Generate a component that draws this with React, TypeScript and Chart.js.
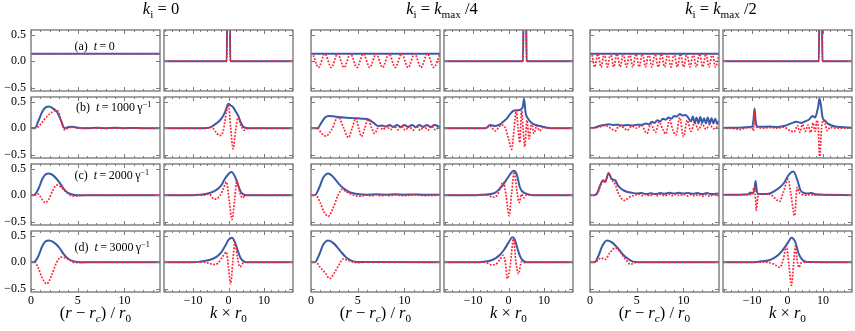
import React, { useEffect, useRef } from 'react';
import { Chart, registerables } from 'chart.js';

Chart.register(...registerables);

type Pt = [number, number];

// ---------- axis configuration ----------
const R_RANGE: [number, number] = [0, 13.8];
const K_RANGE: [number, number] = [-18.2, 18.2];
const Y_RANGE: [number, number] = [-0.565, 0.59];
const R_MAJOR = [0, 5, 10];
const R_MINOR = [1, 2, 3, 4, 6, 7, 8, 9, 11, 12, 13];
const K_MAJOR = [-10, 0, 10];
const K_MINOR = [-18, -16, -14, -12, -8, -6, -4, -2, 2, 4, 6, 8, 12, 14, 16, 18];
const Y_MAJOR = [-0.5, 0, 0.5];

// ---------- k_i = 0 ----------
const k0_r_t0_blue: Pt[] = [[0, 0.14], [13.8, 0.14]];
const k0_r_t0_red: Pt[] = [[0, 0.14], [13.8, 0.14]];
const k0_k_t0_blue: Pt[] = [[-18.2, 0], [-0.5, 0], [-0.3, 1.5], [0.3, 1.5], [0.5, 0], [18.2, 0]];
const k0_k_t0_red: Pt[] = [[-18.2, 0], [-0.5, 0], [-0.3, 1.5], [0.3, 1.5], [0.5, 0], [18.2, 0]];

const k0_r_t1_blue: Pt[] = [[0, 0], [0.4, 0], [0.8, 0.14], [1.2, 0.31], [1.6, 0.4], [1.9, 0.41], [2.3, 0.38], [2.8, 0.3], [3.2, 0.15], [3.6, 0.0], [4.0, 0.02], [4.4, 0.025], [5, 0.01], [6, 0.0], [7, 0.008], [8, 0], [9, 0.006], [10, 0], [11, 0.005], [12, 0], [13.8, 0]];
const k0_r_t1_red: Pt[] = [[0, 0], [0.5, 0], [1.0, 0.07], [1.5, 0.18], [2.0, 0.27], [2.6, 0.33], [2.9, 0.32], [3.2, 0.15], [3.6, -0.03], [4.0, 0.0], [4.4, 0.02], [5, 0.0], [6, 0.005], [7, 0], [13.8, 0]];
const k0_k_t1_blue: Pt[] = [[-18.2, 0], [-7, 0], [-5.5, 0.01], [-4.4, 0.045], [-3, 0.11], [-2, 0.18], [-1, 0.3], [0, 0.46], [0.6, 0.43], [1.3, 0.4], [2, 0.32], [2.7, 0.24], [3.4, 0.12], [4.1, 0.03], [5.5, 0], [18.2, 0]];
const k0_k_t1_red: Pt[] = [[-18.2, 0], [-6, 0], [-4.8, 0.02], [-3.6, -0.07], [-2.5, -0.14], [-1.5, -0.05], [-0.6, 0.3], [0, 0.44], [0.6, 0.02], [1.3, -0.39], [2.0, -0.05], [2.7, 0.2], [3.5, 0.05], [4.5, -0.04], [5.5, 0], [18.2, 0]];

const k0_r_t2_blue: Pt[] = [[0, 0], [0.3, 0], [0.8, 0.12], [1.2, 0.3], [1.6, 0.4], [1.9, 0.41], [2.4, 0.37], [3.0, 0.25], [3.5, 0.12], [4.0, 0.04], [4.7, 0.005], [5.5, 0], [13.8, 0]];
const k0_r_t2_red: Pt[] = [[0, 0], [0.5, 0], [0.8, 0.02], [1.1, -0.06], [1.5, -0.14], [1.9, -0.08], [2.3, 0.08], [2.75, 0.19], [3.2, 0.15], [3.7, 0.07], [4.2, 0.0], [4.6, -0.02], [5.2, -0.01], [6, 0], [13.8, 0]];
const k0_k_t2_blue: Pt[] = [[-18.2, 0], [-10, 0], [-8, 0.01], [-5.8, 0.03], [-3.4, 0.1], [-2, 0.19], [-1.1, 0.3], [0, 0.4], [0.8, 0.44], [1.7, 0.37], [2.7, 0.19], [3.4, 0.07], [4.1, 0.02], [5, 0], [18.2, 0]];
const k0_k_t2_red: Pt[] = [[-18.2, 0], [-7, 0], [-5.5, 0.02], [-4, -0.075], [-2.5, -0.02], [-1.3, 0.15], [-0.6, 0.25], [0.2, -0.1], [1.0, -0.46], [1.7, -0.1], [2.4, 0.28], [3.2, 0.05], [3.9, -0.05], [5, 0], [18.2, 0]];

const k0_r_t3_blue: Pt[] = [[0, 0], [0.3, 0], [0.8, 0.12], [1.2, 0.3], [1.6, 0.4], [1.9, 0.41], [2.4, 0.38], [3.0, 0.28], [3.5, 0.15], [4.0, 0.06], [4.6, 0.015], [5.3, 0], [13.8, 0]];
const k0_r_t3_red: Pt[] = [[0, 0], [0.4, 0], [0.8, -0.12], [1.2, -0.3], [1.7, -0.41], [2.2, -0.25], [2.75, 0.0], [3.2, 0.095], [3.7, 0.08], [4.2, 0.03], [4.7, -0.01], [5.3, -0.01], [6, 0], [13.8, 0]];
const k0_k_t3_blue: Pt[] = [[-18.2, 0], [-10, 0], [-8, 0.01], [-5.5, 0.04], [-3.4, 0.1], [-2, 0.19], [-1, 0.3], [0, 0.42], [1.0, 0.46], [1.8, 0.38], [2.7, 0.2], [3.4, 0.08], [4.2, 0.02], [5, 0], [18.2, 0]];
const k0_k_t3_red: Pt[] = [[-18.2, 0], [-7, 0], [-5.5, -0.02], [-4.4, -0.045], [-3, -0.02], [-1.5, 0.12], [-0.6, 0.19], [0, -0.1], [0.6, -0.41], [1.2, 0.0], [1.8, 0.38], [2.5, 0.1], [3.2, -0.09], [4.2, -0.01], [5, 0], [18.2, 0]];

// ---------- k_i = k_max / 4 ----------
const kq_r_t0_blue: Pt[] = [[0, 0.14], [13.8, 0.14]];
const kq_r_t0_red: Pt[] = [[0, 0.13], [0.11, 0.14], [0.8, -0.12], [1.48, 0.14], [2.17, -0.12], [2.85, 0.14], [3.54, -0.12], [4.22, 0.14], [4.91, -0.12], [5.6, 0.14], [6.28, -0.12], [6.97, 0.14], [7.65, -0.12], [8.34, 0.14], [9.02, -0.12], [9.7, 0.14], [10.39, -0.12], [11.08, 0.14], [11.76, -0.12], [12.45, 0.14], [13.13, -0.12], [13.8, 0.14]];
const kq_k_t0_blue: Pt[] = [[-18.2, 0], [4.1, 0], [4.3, 1.5], [4.9, 1.5], [5.1, 0], [18.2, 0]];
const kq_k_t0_red: Pt[] = [[-18.2, 0], [4.1, 0], [4.3, 1.5], [4.9, 1.5], [5.1, 0], [18.2, 0]];

const kq_r_t1_blue: Pt[] = [[0, 0], [0.7, 0], [1.1, 0.1], [1.5, 0.2], [1.9, 0.23], [2.5, 0.22], [3.5, 0.2], [4.5, 0.19], [5.5, 0.18], [6.2, 0.16], [6.7, 0.1], [7.2, 0.04], [7.6, 0.05], [8.0, 0.03], [8.4, 0.06], [8.8, 0.02], [9.2, 0.06], [9.6, 0.02], [10.0, 0.06], [10.4, 0.02], [10.8, 0.06], [11.2, 0.02], [11.6, 0.06], [12.0, 0.02], [12.4, 0.06], [12.8, 0.02], [13.2, 0.06], [13.8, 0.02]];
const kq_r_t1_red: Pt[] = [[0, 0], [0.7, 0], [1.1, -0.09], [1.6, -0.15], [2.2, -0.03], [2.9, 0.21], [3.5, 0.0], [4.0, -0.18], [4.4, 0.0], [4.8, 0.19], [5.1, 0.0], [5.4, -0.16], [5.75, 0.0], [6.1, 0.17], [6.5, 0.0], [6.8, -0.1], [7.3, 0.04], [7.7, -0.03], [8.1, 0.04], [8.5, -0.03], [8.9, 0.04], [9.3, -0.03], [9.7, 0.04], [10.1, -0.04], [10.5, 0.04], [10.9, -0.04], [11.3, 0.04], [11.7, -0.04], [12.1, 0.04], [12.5, -0.04], [12.9, 0.04], [13.3, -0.03], [13.8, 0.04]];
const kq_k_t1_blue: Pt[] = [[-18.2, 0], [-6.5, 0], [-5.2, 0.06], [-3.8, 0.04], [-2.4, 0.07], [-1.5, 0.12], [-0.5, 0.18], [0.5, 0.27], [1.4, 0.33], [2.5, 0.34], [3.4, 0.35], [4.0, 0.4], [4.4, 0.55], [4.8, 0.3], [5.5, 0.18], [6.5, 0.1], [7.7, 0.06], [8.9, 0.04], [10.8, 0.01], [12, 0], [18.2, 0]];
const kq_k_t1_red: Pt[] = [[-18.2, 0], [-6.5, 0], [-5.2, 0.04], [-3.8, -0.05], [-2.0, 0.06], [-1.0, 0.02], [0.0, -0.2], [0.9, -0.4], [1.6, 0.0], [2.2, 0.33], [2.7, 0.0], [3.2, -0.27], [3.7, 0.34], [4.1, 0.0], [4.6, -0.35], [5.2, 0.15], [5.8, -0.2], [6.5, 0.1], [7.2, -0.1], [8, 0.05], [8.7, -0.05], [9.9, 0.02], [11, 0], [18.2, 0]];

const kq_r_t2_blue: Pt[] = [[0, 0], [0.4, 0], [0.9, 0.15], [1.3, 0.33], [1.85, 0.41], [2.4, 0.34], [3.1, 0.19], [3.7, 0.1], [4.2, 0.05], [5, 0.02], [6, 0.01], [7, 0.015], [8, 0.01], [9, 0.015], [10, 0.01], [11, 0.012], [12, 0.01], [13.8, 0.01]];
const kq_r_t2_red: Pt[] = [[0, 0], [0.5, 0], [1.0, -0.15], [1.4, -0.32], [1.85, -0.4], [2.3, -0.27], [2.9, 0.0], [3.3, 0.11], [3.8, 0.06], [4.3, 0.02], [4.7, -0.01], [5.2, -0.02], [6, 0.0], [6.5, -0.015], [7, 0.005], [7.5, -0.015], [8, 0.005], [8.5, -0.01], [9, 0.005], [10, -0.01], [11, 0.005], [12, -0.008], [13.8, 0]];
const kq_k_t2_blue: Pt[] = [[-18.2, 0], [-9, 0], [-7.1, 0.01], [-4.3, 0.03], [-3.3, 0.07], [-2.4, 0.13], [-1.5, 0.2], [-0.5, 0.3], [0.5, 0.4], [1.4, 0.46], [2.3, 0.4], [3.2, 0.15], [3.9, 0.07], [4.6, 0.04], [6, 0.01], [7, 0], [18.2, 0]];
const kq_k_t2_red: Pt[] = [[-18.2, 0], [-7, 0], [-5.5, 0.0], [-4.7, -0.04], [-3.3, -0.01], [-2.4, 0.12], [-1.5, 0.25], [-0.7, 0.0], [0.15, -0.39], [0.9, 0.05], [1.6, 0.44], [2.3, 0.12], [3.0, -0.14], [3.7, 0.02], [4.3, -0.05], [5, 0], [18.2, 0]];

const kq_r_t3_blue: Pt[] = [[0, 0], [0.4, 0], [0.9, 0.15], [1.3, 0.33], [1.85, 0.41], [2.4, 0.36], [3.1, 0.22], [3.7, 0.1], [4.3, 0.03], [5, 0.005], [13.8, 0]];
const kq_r_t3_red: Pt[] = [[0, 0], [0.5, 0], [1.0, -0.1], [1.5, -0.2], [2.0, -0.31], [2.5, -0.2], [3.0, -0.05], [3.4, 0.06], [3.9, 0.04], [4.5, 0.0], [5, -0.01], [6, 0], [13.8, 0]];
const kq_k_t3_blue: Pt[] = [[-18.2, 0], [-9, 0], [-7, 0.01], [-5, 0.03], [-3.5, 0.08], [-2.4, 0.14], [-1.2, 0.24], [0, 0.37], [1.1, 0.47], [1.8, 0.42], [2.7, 0.22], [3.5, 0.08], [4.3, 0.02], [5.5, 0], [18.2, 0]];
const kq_k_t3_red: Pt[] = [[-18.2, 0], [-7, 0], [-5.8, -0.02], [-4.7, -0.05], [-3.2, -0.02], [-2.3, 0.06], [-1.5, 0.13], [-0.9, 0.0], [-0.3, -0.31], [0.5, -0.05], [1.4, 0.44], [2.1, 0.0], [2.8, -0.22], [3.7, 0.01], [4.5, -0.01], [5.5, 0], [18.2, 0]];

// ---------- k_i = k_max / 2 ----------
const kh_r_t0_blue: Pt[] = [[0, 0.14], [13.8, 0.14]];
const kh_r_t0_red: Pt[] = [[0, 0.12], [0.16, 0.14], [0.5, -0.11], [0.84, 0.14], [1.18, -0.11], [1.52, 0.14], [1.86, -0.11], [2.2, 0.14], [2.54, -0.11], [2.88, 0.14], [3.22, -0.11], [3.56, 0.14], [3.9, -0.11], [4.24, 0.14], [4.58, -0.11], [4.92, 0.14], [5.26, -0.11], [5.6, 0.14], [5.94, -0.11], [6.28, 0.14], [6.62, -0.11], [6.96, 0.14], [7.3, -0.11], [7.64, 0.14], [7.98, -0.11], [8.32, 0.14], [8.66, -0.11], [9.0, 0.14], [9.34, -0.11], [9.68, 0.14], [10.02, -0.11], [10.36, 0.14], [10.7, -0.11], [11.04, 0.14], [11.38, -0.11], [11.72, 0.14], [12.06, -0.11], [12.4, 0.14], [12.74, -0.11], [13.08, 0.14], [13.42, -0.11], [13.8, 0.12]];
const kh_k_t0_blue: Pt[] = [[-18.2, 0], [8.85, 0], [9.05, 1.5], [9.65, 1.5], [9.85, 0], [18.2, 0]];
const kh_k_t0_red: Pt[] = [[-18.2, 0], [8.85, 0], [9.05, 1.5], [9.65, 1.5], [9.85, 0], [18.2, 0]];

const kh_r_t1_blue: Pt[] = [[0, 0], [0.5, 0.01], [1.0, 0.04], [1.5, 0.06], [2.0, 0.075], [2.5, 0.06], [3.0, 0.065], [3.5, 0.05], [4.0, 0.06], [4.5, 0.05], [5.0, 0.065], [5.5, 0.06], [6.0, 0.09], [6.3, 0.07], [6.6, 0.12], [6.9, 0.1], [7.2, 0.15], [7.5, 0.13], [7.8, 0.18], [8.1, 0.16], [8.4, 0.2], [8.7, 0.18], [9.0, 0.23], [9.3, 0.22], [9.6, 0.27], [9.9, 0.24], [10.2, 0.25], [10.5, 0.2], [10.8, 0.13], [11.0, 0.22], [11.2, 0.1], [11.4, 0.2], [11.6, 0.09], [11.8, 0.21], [12.0, 0.1], [12.2, 0.19], [12.4, 0.09], [12.6, 0.2], [12.8, 0.08], [13.0, 0.19], [13.2, 0.09], [13.4, 0.18], [13.6, 0.08], [13.8, 0.14]];
const kh_r_t1_red: Pt[] = [[0, 0], [1.0, 0.02], [1.6, 0.05], [2.2, 0.0], [2.7, -0.05], [3.1, 0.04], [3.6, 0.01], [4.0, -0.04], [4.5, 0.04], [5.0, 0.0], [5.5, 0.05], [6.1, -0.1], [6.5, 0.08], [7.0, -0.08], [7.4, 0.12], [7.8, -0.03], [8.1, -0.11], [8.5, 0.15], [8.9, -0.05], [9.2, -0.13], [9.6, 0.2], [10.0, -0.16], [10.4, 0.15], [10.8, -0.06], [11.2, 0.1], [11.6, -0.03], [12.0, 0.08], [12.4, -0.02], [12.8, 0.07], [13.2, -0.01], [13.8, 0.05]];
const kh_k_t1_blue: Pt[] = [[-18.2, 0.005], [-14, 0.01], [-11, 0.02], [-10, 0.03], [-9.6, 0.15], [-9.3, 0.37], [-9.0, 0.15], [-8.6, 0.03], [-7, 0.025], [-5.2, 0.03], [-3, 0.02], [-1, 0.04], [1, 0.09], [2.5, 0.12], [4, 0.1], [5, 0.13], [6, 0.16], [7.1, 0.23], [7.8, 0.2], [8.3, 0.3], [8.7, 0.42], [9.0, 0.56], [9.4, 0.45], [9.9, 0.2], [10.6, 0.14], [11.3, 0.09], [12.5, 0.05], [13.5, 0.03], [15, 0.02], [18.2, 0.01]];
const kh_k_t1_red: Pt[] = [[-18.2, 0], [-14, -0.02], [-13.5, -0.03], [-12, 0], [-10, 0.01], [-9.6, -0.05], [-9.3, 0.33], [-9.0, 0.05], [-8.6, 0.02], [-7, 0.0], [-5, 0.01], [-3, 0.0], [-1, 0.02], [0.5, -0.04], [1.9, -0.07], [2.8, 0.05], [3.5, -0.08], [4.2, 0.07], [5, -0.06], [5.8, 0.06], [6.5, -0.08], [7.2, 0.1], [7.8, -0.06], [8.3, 0.15], [8.7, 0.0], [9.1, -0.6], [9.5, -0.1], [10, 0.15], [10.6, 0.08], [11.3, -0.05], [12, 0.02], [13, 0], [18.2, 0]];

const kh_r_t2_blue: Pt[] = [[0, 0], [0.5, 0], [0.8, 0.05], [1.07, 0.18], [1.4, 0.28], [1.6, 0.25], [2.0, 0.42], [2.3, 0.31], [2.7, 0.28], [3.0, 0.18], [3.5, 0.1], [4.0, 0.06], [4.5, 0.045], [5, 0.03], [5.5, 0.04], [6, 0.02], [6.5, 0.035], [7, 0.02], [7.5, 0.04], [8, 0.025], [8.5, 0.045], [9, 0.03], [9.5, 0.045], [10, 0.03], [10.5, 0.04], [11, 0.025], [11.5, 0.04], [12, 0.02], [12.5, 0.04], [13, 0.02], [13.8, 0.03]];
const kh_r_t2_red: Pt[] = [[0, 0], [0.5, 0], [0.8, 0.03], [1.07, 0.15], [1.4, 0.28], [1.6, 0.24], [2.0, 0.41], [2.3, 0.3], [2.7, 0.2], [3.0, 0.05], [3.4, -0.07], [3.7, -0.1], [4.2, -0.04], [4.8, 0.0], [5.2, 0.02], [5.6, -0.01], [6, 0.02], [6.4, -0.015], [6.8, 0.02], [7.2, -0.01], [7.6, 0.02], [8, -0.015], [8.4, 0.02], [8.8, -0.01], [9.2, 0.02], [9.6, -0.01], [10, 0.015], [10.4, -0.015], [10.8, 0.01], [11.2, -0.015], [11.6, 0.015], [12, -0.02], [12.4, 0.01], [12.8, -0.02], [13.2, 0.01], [13.8, -0.01]];
const kh_k_t2_blue: Pt[] = [[-18.2, 0.005], [-13, 0.01], [-11, 0.02], [-10.5, 0.05], [-9.8, 0.03], [-9.3, 0.12], [-9.0, 0.27], [-8.7, 0.1], [-8.3, 0.02], [-7, 0.02], [-5, 0.03], [-3.6, 0.08], [-2, 0.16], [-0.9, 0.24], [0.5, 0.4], [1.7, 0.45], [2.7, 0.3], [3.7, 0.09], [4.8, 0.04], [5.7, 0.03], [6.7, 0.04], [8, 0.015], [10, 0.01], [18.2, 0]];
const kh_k_t2_red: Pt[] = [[-18.2, 0], [-11, 0.01], [-10, 0.02], [-9.4, 0.15], [-9.1, 0.02], [-8.8, -0.29], [-8.4, -0.05], [-8, 0.02], [-6, 0.02], [-4.5, 0.0], [-3.5, -0.06], [-2.2, -0.12], [-1.2, 0.05], [0.2, 0.3], [0.9, 0.05], [2.0, -0.39], [2.7, 0.15], [3.3, 0.05], [3.9, 0.02], [5, 0.0], [6.5, 0.01], [8, 0], [18.2, 0]];

const kh_r_t3_blue: Pt[] = [[0, 0], [0.5, 0], [0.9, 0.12], [1.3, 0.3], [1.8, 0.41], [2.3, 0.38], [3.0, 0.26], [3.6, 0.13], [4.1, 0.06], [4.6, 0.01], [5.2, 0], [13.8, 0]];
const kh_r_t3_red: Pt[] = [[0, 0], [0.6, 0], [0.9, 0.05], [1.2, 0.08], [1.6, 0.05], [2.1, 0.17], [2.7, 0.27], [3.2, 0.2], [3.6, 0.1], [4.0, 0.01], [4.3, -0.04], [4.8, -0.01], [5.3, 0], [13.8, 0]];
const kh_k_t3_blue: Pt[] = [[-18.2, 0], [-10, 0], [-7.5, 0.015], [-5.5, 0.03], [-4, 0.07], [-2.7, 0.13], [-1.7, 0.2], [-0.8, 0.28], [0.2, 0.38], [1.1, 0.46], [2.2, 0.38], [3.2, 0.15], [4.4, 0.03], [5.5, 0.005], [18.2, 0]];
const kh_k_t3_red: Pt[] = [[-18.2, 0], [-7, 0], [-5, -0.01], [-3.5, -0.05], [-2.2, -0.1], [-1.2, 0.05], [-0.3, 0.3], [0.4, -0.05], [1.1, -0.44], [1.7, -0.05], [2.2, 0.3], [2.7, 0.05], [3.2, -0.1], [3.9, -0.01], [4.6, 0], [18.2, 0]];

// ---------- layout & style ----------
const BLUE = '#3a5aa8';
const RED = '#ff2233';
const FRAME = '#7c7c7c';
const SERIF = "'Liberation Serif', 'Times New Roman', serif";
const COL_LEFT = [31, 164, 311, 444, 590, 723];
const ROW_TOP = [30, 97, 164, 231];
const PW = 129;
const PH = 61;
const PAD = 30;

type Kind = 'r' | 'k';
interface PanelSpec { col: number; row: number; kind: Kind; blue: Pt[]; red: Pt[] }

const GROUPS: { r: [Pt[], Pt[]][]; k: [Pt[], Pt[]][] }[] = [
  {
    r: [[k0_r_t0_blue, k0_r_t0_red], [k0_r_t1_blue, k0_r_t1_red], [k0_r_t2_blue, k0_r_t2_red], [k0_r_t3_blue, k0_r_t3_red]],
    k: [[k0_k_t0_blue, k0_k_t0_red], [k0_k_t1_blue, k0_k_t1_red], [k0_k_t2_blue, k0_k_t2_red], [k0_k_t3_blue, k0_k_t3_red]],
  },
  {
    r: [[kq_r_t0_blue, kq_r_t0_red], [kq_r_t1_blue, kq_r_t1_red], [kq_r_t2_blue, kq_r_t2_red], [kq_r_t3_blue, kq_r_t3_red]],
    k: [[kq_k_t0_blue, kq_k_t0_red], [kq_k_t1_blue, kq_k_t1_red], [kq_k_t2_blue, kq_k_t2_red], [kq_k_t3_blue, kq_k_t3_red]],
  },
  {
    r: [[kh_r_t0_blue, kh_r_t0_red], [kh_r_t1_blue, kh_r_t1_red], [kh_r_t2_blue, kh_r_t2_red], [kh_r_t3_blue, kh_r_t3_red]],
    k: [[kh_k_t0_blue, kh_k_t0_red], [kh_k_t1_blue, kh_k_t1_red], [kh_k_t2_blue, kh_k_t2_red], [kh_k_t3_blue, kh_k_t3_red]],
  },
];

const PANELS: PanelSpec[] = [];
GROUPS.forEach((g, gi) => {
  for (let row = 0; row < 4; row++) {
    PANELS.push({ col: gi * 2, row, kind: 'r', blue: g.r[row][0], red: g.r[row][1] });
    PANELS.push({ col: gi * 2 + 1, row, kind: 'k', blue: g.k[row][0], red: g.k[row][1] });
  }
});

const fmtNum = (v: number, digits: number) => (v < 0 ? '\u2212' : '') + Math.abs(v).toFixed(digits);

function Panel({ spec }: { spec: PanelSpec }) {
  const ref = useRef<HTMLCanvasElement>(null);
  useEffect(() => {
    const isR = spec.kind === 'r';
    const range = isR ? R_RANGE : K_RANGE;
    const major = isR ? R_MAJOR : K_MAJOR;
    const minor = isR ? R_MINOR : K_MINOR;
    const showX = spec.row === 3;
    const showY = spec.col === 0;
    const framePlugin = {
      id: 'frameTicks',
      afterDatasetsDraw(chart: any) {
        const { ctx, chartArea: a } = chart;
        const xs = chart.scales.x;
        const ys = chart.scales.y;
        ctx.save();
        ctx.strokeStyle = FRAME;
        ctx.lineWidth = 1;
        ctx.beginPath();
        const vx = (v: number, len: number) => {
          const p = Math.round(xs.getPixelForValue(v)) + 0.5;
          ctx.moveTo(p, a.bottom); ctx.lineTo(p, a.bottom - len);
          ctx.moveTo(p, a.top); ctx.lineTo(p, a.top + len);
        };
        major.forEach((v) => vx(v, 4));
        minor.forEach((v) => vx(v, 2));
        Y_MAJOR.forEach((v) => {
          const p = Math.round(ys.getPixelForValue(v)) + 0.5;
          ctx.moveTo(a.left, p); ctx.lineTo(a.left + 4, p);
          ctx.moveTo(a.right, p); ctx.lineTo(a.right - 4, p);
        });
        ctx.stroke();
        ctx.lineWidth = 1.4;
        ctx.strokeRect(a.left, a.top, a.right - a.left, a.bottom - a.top);
        ctx.fillStyle = '#000';
        ctx.font = `12px ${SERIF}`;
        if (showX) {
          ctx.textAlign = 'center';
          ctx.textBaseline = 'top';
          major.forEach((v) => ctx.fillText(fmtNum(v, 0), xs.getPixelForValue(v), a.bottom + 3));
        }
        if (showY) {
          ctx.textAlign = 'right';
          ctx.textBaseline = 'middle';
          Y_MAJOR.forEach((v) => ctx.fillText(fmtNum(v, 1), a.left - 5, ys.getPixelForValue(v)));
        }
        ctx.restore();
      },
    };
    const toPts = (arr: Pt[]) => arr.map(([x, y]) => ({ x, y }));
    const chart = new Chart(ref.current as HTMLCanvasElement, {
      type: 'line',
      data: {
        datasets: [
          {
            data: toPts(spec.red),
            borderColor: RED,
            borderWidth: 1.7,
            borderDash: [1.8, 1.5],
            pointRadius: 0,
            fill: false,
            cubicInterpolationMode: 'monotone',
          },
          {
            data: toPts(spec.blue),
            borderColor: BLUE,
            borderWidth: 2,
            pointRadius: 0,
            fill: false,
            cubicInterpolationMode: 'monotone',
          },
        ],
      },
      options: {
        animation: false,
        responsive: false,
        maintainAspectRatio: false,
        devicePixelRatio: 1,
        events: [],
        layout: { padding: PAD },
        plugins: { legend: { display: false }, tooltip: { enabled: false }, title: { display: false } },
        scales: {
          x: { type: 'linear', min: range[0], max: range[1], display: false },
          y: { type: 'linear', min: Y_RANGE[0], max: Y_RANGE[1], display: false },
        },
      },
      plugins: [framePlugin],
    } as any);
    return () => chart.destroy();
  }, [spec]);
  const w = PW + 2 * PAD;
  const h = PH + 2 * PAD;
  return (
    <canvas
      ref={ref}
      width={w}
      height={h}
      style={{ position: 'absolute', left: COL_LEFT[spec.col] - PAD, top: ROW_TOP[spec.row] - PAD, width: w, height: h }}
    />
  );
}

const Sub = ({ children, italic }: { children: React.ReactNode; italic?: boolean }) => (
  <span style={{ fontSize: '0.68em', position: 'relative', top: '0.32em', fontStyle: italic ? 'italic' : 'normal' }}>{children}</span>
);
const Sup = ({ children }: { children: React.ReactNode }) => (
  <span style={{ fontSize: '0.68em', position: 'relative', top: '-0.45em' }}>{children}</span>
);

const abs = (left: number, top: number, size: number, center = true): React.CSSProperties => ({
  position: 'absolute',
  left,
  top,
  fontSize: size,
  lineHeight: 1,
  whiteSpace: 'nowrap',
  fontFamily: SERIF,
  color: '#000',
  transform: center ? 'translateX(-50%)' : undefined,
});

const TITLE_X = [161, 442, 721];
const RLABEL_X = [95.5, 375.5, 654.5];
const KLABEL_X = [228.5, 508.5, 787.5];
const TIME_LABELS = ['0', '1000', '2000', '3000'];
const LETTERS = ['(a)', '(b)', '(c)', '(d)'];
const LABEL_TOP = [39.5, 101, 169, 241];

export default function App() {
  return (
    <div style={{ position: 'absolute', left: 0, top: 0, width: 855, height: 331, overflow: 'hidden', background: '#fff', fontFamily: SERIF }}>
      {PANELS.map((p, i) => (
        <Panel key={i} spec={p} />
      ))}
      <div style={abs(TITLE_X[0], 1, 16.5)}>
        <i>k</i><Sub>i</Sub> = 0
      </div>
      <div style={abs(TITLE_X[1], 1, 16.5)}>
        <i>k</i><Sub>i</Sub> = <i>k</i><Sub>max</Sub> /4
      </div>
      <div style={abs(TITLE_X[2], 1, 16.5)}>
        <i>k</i><Sub>i</Sub> = <i>k</i><Sub>max</Sub> /2
      </div>
      {LETTERS.map((l, i) => (
        <div key={l} style={abs(i === 1 ? 76 : 74.5, LABEL_TOP[i], 12, false)}>
          {l}{'\u2002'}<i>t</i>{'\u2009'}={'\u2009'}{TIME_LABELS[i]}
          {i > 0 ? (
            <>
              {'\u2009'}γ<Sup>{'\u2212'}1</Sup>
            </>
          ) : null}
        </div>
      ))}
      {RLABEL_X.map((x) => (
        <div key={'r' + x} style={abs(x, 305, 16.5)}>
          (<i>r</i> {'\u2212'} <i>r</i><Sub italic>c</Sub>) / <i>r</i><Sub>0</Sub>
        </div>
      ))}
      {KLABEL_X.map((x) => (
        <div key={'k' + x} style={abs(x, 305, 16.5)}>
          <i>k</i> × <i>r</i><Sub>0</Sub>
        </div>
      ))}
    </div>
  );
}
